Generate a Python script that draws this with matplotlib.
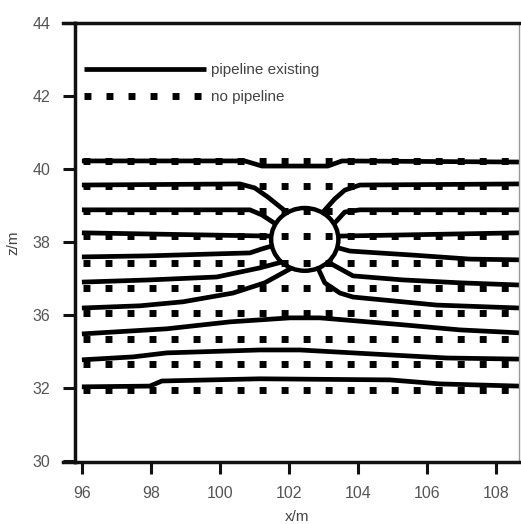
import matplotlib.pyplot as plt
from matplotlib.patches import Ellipse

plt.rcParams['font.family'] = ['Liberation Sans', 'DejaVu Sans']

# "no pipeline": flat levels (z/m, read in the axis' own scale)
no_pipe_z = [40.22, 39.53, 38.85, 38.16, 37.42, 36.74, 36.05, 35.34, 34.66, 33.95]
no_pipe_x = [96.03, 108.40]

# "pipeline existing": lines touching the pipe are split into left / right parts
pipe_lines = [
    ([96.0, 100.72, 101.22, 103.13, 103.54, 108.67], [40.22, 40.22, 40.08, 40.08, 40.22, 40.19]),
    ([96.0, 100.58, 101.01, 101.39, 101.97], [39.56, 39.59, 39.48, 39.23, 38.79]),
    ([102.96, 103.33, 103.62, 104.06, 108.67], [38.79, 39.18, 39.42, 39.56, 39.59]),
    ([96.0, 100.87, 101.22, 101.62], [38.88, 38.88, 38.74, 38.49]),
    ([103.30, 103.62, 104.06, 108.67], [38.49, 38.82, 38.88, 38.88]),
    ([96.0, 101.51], [38.25, 38.16]),
    ([103.42, 108.67], [38.16, 38.25]),
    ([96.0, 97.97, 100.87, 101.22, 101.51], [37.59, 37.62, 37.70, 37.81, 37.89]),
    ([103.42, 103.77, 105.59, 107.25, 108.67], [37.84, 37.75, 37.64, 37.53, 37.51]),
    ([96.0, 97.97, 99.91, 101.16, 101.80], [36.90, 36.96, 37.04, 37.29, 37.45]),
    ([103.13, 103.86, 105.30, 106.96, 108.67], [37.45, 37.07, 36.96, 36.88, 36.82]),
    ([96.0, 97.68, 98.93, 100.38, 101.30, 102.09], [36.19, 36.25, 36.36, 36.60, 36.88, 37.29]),
    ([102.84, 103.04, 103.48, 103.86, 106.29, 108.67], [37.29, 36.88, 36.60, 36.49, 36.27, 36.19]),
    ([96.0, 98.46, 100.29, 102.03, 102.90, 105.30, 106.96, 108.67], [35.48, 35.62, 35.81, 35.92, 35.92, 35.73, 35.59, 35.51]),
    ([96.0, 97.48, 98.46, 101.16, 102.32, 105.01, 106.58, 108.67], [34.77, 34.85, 34.96, 35.04, 35.04, 34.90, 34.82, 34.79]),
    ([96.0, 97.97, 98.32, 101.16, 104.93, 106.38, 108.67], [34.03, 34.05, 34.19, 34.25, 34.22, 34.11, 34.05]),
]

# pipe cross section
pipe_x, pipe_z = 102.46, 38.07
pipe_w, pipe_h = 1.95, 1.72

xticks = [96, 98, 100, 102, 104, 106, 108]
# the source axis skips 34: ticks are evenly spaced but labelled like this
ytick_pos = [32, 34, 36, 38, 40, 42, 44]
ytick_labels = ['30', '32', '36', '38', '40', '42', '44']

fig = plt.figure(figsize=(5.21, 5.24), dpi=100)
ax = fig.add_axes([75 / 521, 1 - 462 / 524, 444 / 521, 439 / 524])

for i, z in enumerate(no_pipe_z):
    ax.plot(no_pipe_x, [z, z], color='black', lw=5, linestyle=(0, (1, 2.17)),
            dash_capstyle='butt', label='no pipeline' if i == 0 else None)

for i, (xs, zs) in enumerate(pipe_lines):
    ax.plot(xs, zs, color='black', lw=3.4, solid_capstyle='butt',
            label='pipeline existing' if i == 0 else None)

ax.add_patch(Ellipse((pipe_x, pipe_z), pipe_w, pipe_h, fill=False, edgecolor='black', lw=3.2))

ax.set_xlim(95.8, 108.67)
ax.set_ylim(31.97, 44)
ax.set_xticks(xticks)
ax.set_yticks(ytick_pos)
ax.set_yticklabels(ytick_labels)
ax.tick_params(direction='out', length=8.6, width=2.2, pad=9, labelsize=11.5,
               labelcolor='#555555', color='#111111')

for side in ['left', 'bottom', 'top']:
    ax.spines[side].set_linewidth(2.5)
    ax.spines[side].set_color('#111111')
ax.spines['right'].set_linewidth(1)
ax.spines['right'].set_color('#999999')

# top and bottom frame lines run a little past the left spine
for yy in [0, 1]:
    ax.plot([-0.028, 0], [yy, yy], color='#111111', lw=2.5,
            transform=ax.transAxes, clip_on=False)

ax.set_xlabel('x/m', fontsize=11, color='#444444', labelpad=6)
ax.set_ylabel('z/m', fontsize=11, color='#444444', labelpad=9)

handles, labels = ax.get_legend_handles_labels()
ax.legend(handles[::-1], labels[::-1], loc='upper left', bbox_to_anchor=(0.02, 0.909),
          frameon=False, fontsize=11, handlelength=8, handletextpad=0.3,
          labelspacing=0.85, borderpad=0, borderaxespad=0, labelcolor='#444444')

fig.savefig('out.png', dpi=100)
